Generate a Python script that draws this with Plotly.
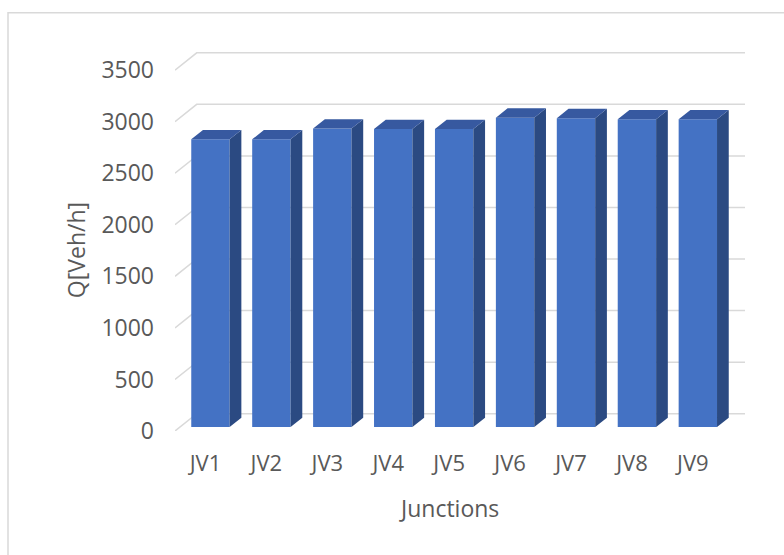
import plotly.graph_objects as go

# ---- data ----
categories = ["JV1", "JV2", "JV3", "JV4", "JV5", "JV6", "JV7", "JV8", "JV9"]
flow = [2790, 2790, 2895, 2890, 2890, 3000, 2995, 2985, 2985]
y_ticks = [0, 500, 1000, 1500, 2000, 2500, 3000, 3500]

# ---- figure geometry (pixels) ----
W, H = 784, 555
PLOT_L, PLOT_R, PLOT_T, PLOT_B = 175, 745, 40, 430.7
X_RANGE = [-0.5, 8.856]
Y_RANGE = [0, 3792]
px_per_x = (PLOT_R - PLOT_L) / (X_RANGE[1] - X_RANGE[0])
px_per_y = (PLOT_B - PLOT_T) / (Y_RANGE[1] - Y_RANGE[0])

# oblique projection: offset of the back wall relative to the front plane
wall_dx = 21.7 / px_per_x
wall_dy = 17.3 / px_per_y
bar_front, bar_back = 0.23, 0.77      # depth fractions of the columns
bar_w = 0.63

FRONT = "#4472C4"
TOP = "#3759A0"
SIDE = "#2B4A82"
GRID = "#D9D9D9"
TEXT = "#595959"
FONT = "Open Sans, Noto Sans, sans-serif"


def paper_x(px):
    return (px - PLOT_L) / (PLOT_R - PLOT_L)


def paper_y(py):
    return (PLOT_B - py) / (PLOT_B - PLOT_T)


n = len(categories)
x_left = -0.5
x_right = n - 0.5

# gridlines: short diagonal on the left wall, then across the back wall
shapes = []
for v in y_ticks:
    path = (f"M {x_left},{v} L {x_left + wall_dx},{v + wall_dy} "
            f"L {x_right + wall_dx},{v + wall_dy}")
    shapes.append(dict(type="path", path=path, xref="x", yref="y",
                       line=dict(color=GRID, width=1.5), layer="below"))

# chart frame
shapes.append(dict(type="rect", xref="paper", yref="paper",
                   x0=paper_x(8), x1=paper_x(W + 10),
                   y0=paper_y(H + 10), y1=paper_y(12.7),
                   line=dict(color=GRID, width=1.5), layer="below"))

# column faces
fdx, fdy = bar_front * wall_dx, bar_front * wall_dy
ddx, ddy = (bar_back - bar_front) * wall_dx, (bar_back - bar_front) * wall_dy

side_x, side_y, top_x, top_y = [], [], [], []
for i, v in enumerate(flow):
    xl = i + fdx - bar_w / 2
    xr = i + fdx + bar_w / 2
    y0 = fdy
    y1 = fdy + v
    side_x += [xr, xr + ddx, xr + ddx, xr, xr, None]
    side_y += [y0, y0 + ddy, y1 + ddy, y1, y0, None]
    top_x += [xl, xl + ddx, xr + ddx, xr, xl, None]
    top_y += [y1, y1 + ddy, y1 + ddy, y1, y1, None]

fig = go.Figure()
fig.add_trace(go.Bar(
    x=[i + fdx for i in range(n)], y=flow, base=fdy, width=bar_w,
    marker=dict(color=FRONT, line=dict(width=0)),
    hovertext=categories, showlegend=False))
fig.add_trace(go.Scatter(
    x=side_x, y=side_y, mode="lines", fill="toself", fillcolor=SIDE,
    line=dict(width=0, color=SIDE), hoverinfo="skip", showlegend=False))
fig.add_trace(go.Scatter(
    x=top_x, y=top_y, mode="lines", fill="toself", fillcolor=TOP,
    line=dict(width=0, color=TOP), hoverinfo="skip", showlegend=False))

fig.update_layout(
    width=W, height=H,
    margin=dict(l=PLOT_L, r=W - PLOT_R, t=PLOT_T, b=H - PLOT_B),
    paper_bgcolor="white", plot_bgcolor="white",
    font=dict(family=FONT, color=TEXT, size=22),
    shapes=shapes,
    xaxis=dict(range=X_RANGE, tickvals=list(range(n)), ticktext=categories,
               showgrid=False, zeroline=False, showline=False, ticks="",
               ticklabelstandoff=17, tickfont=dict(size=22, color=TEXT)),
    yaxis=dict(range=Y_RANGE, tickvals=y_ticks, showgrid=False,
               zeroline=False, showline=False, ticks="",
               ticklabelstandoff=20, tickfont=dict(size=23, color=TEXT)),
    annotations=[
        dict(text="Junctions", xref="paper", yref="paper",
             x=paper_x(449), y=paper_y(508), xanchor="center",
             yanchor="middle", showarrow=False,
             font=dict(size=23, color=TEXT)),
        dict(text="Q[Veh/h]", xref="paper", yref="paper",
             x=paper_x(76), y=paper_y(250), xanchor="center",
             yanchor="middle", showarrow=False, textangle=-90,
             font=dict(size=23, color=TEXT)),
    ],
    showlegend=False,
)

fig.write_html("out.html")
